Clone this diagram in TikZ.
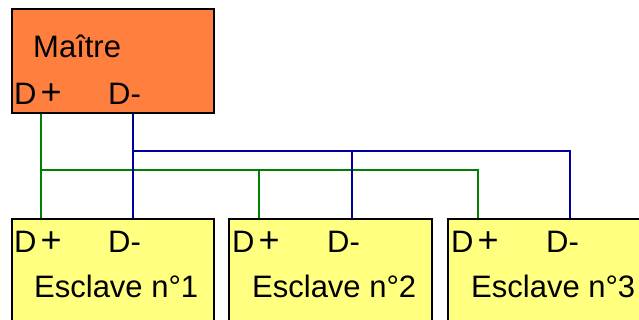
\documentclass[tikz,border=0pt]{standalone}
\usepackage{fontspec}
\setmainfont{Liberation Sans}
\definecolor{masterfill}{RGB}{255,127,63}
\definecolor{slavefill}{RGB}{255,255,128}
\definecolor{wgreen}{RGB}{0,128,0}
\definecolor{wblue}{RGB}{0,0,160}
\newcommand{\dplus}{D\kern4pt{\fontsize{36}{36}\selectfont+}}
\tikzset{
  box/.style={draw=black, line width=2pt, rectangle, inner sep=0pt},
  lbl/.style={anchor=base west, inner sep=0pt, font=\fontsize{31}{36}\selectfont},
  gline/.style={draw=wgreen, line width=1.6pt},
  bline/.style={draw=wblue, line width=1.6pt}
}
\begin{document}
\begin{tikzpicture}[x=1pt,y=-1pt]
\useasboundingbox (0,0) rectangle (639,320);
\clip (0,0) rectangle (639,320);
\fill[white] (0,0) rectangle (639,320);
% ports
\coordinate (mp) at (41,113);
\coordinate (mm) at (133,113);
\coordinate (s1p) at (41,219);
\coordinate (s1m) at (133,219);
\coordinate (s2p) at (259,219);
\coordinate (s2m) at (352,219);
\coordinate (s3p) at (478,219);
\coordinate (s3m) at (570,219);
\coordinate (gy) at (0,170);
\coordinate (by) at (0,151);
% green bus (D+)
\draw[gline] (mp) -- (s1p);
\draw[gline] (mp |- gy) -| (s3p);
\draw[gline] (s2p) -- (s2p |- gy);
% blue bus (D-)
\draw[bline] (mm) -- (s1m);
\draw[bline] (mm |- by) -| (s3m);
\draw[bline] (s2m) -- (s2m |- by);
% master
\node[box, fill=masterfill, minimum width=202pt, minimum height=104pt] (master) at (113,61) {};
\node[lbl] (mname) at (33,58) {Maître};
\node[lbl] (mdp) at (14,105) {\dplus};
\node[lbl] (mdm) at (108,105) {D-};
% slaves
\node[box, fill=slavefill, minimum width=202pt, minimum height=140pt] (s1) at (113,289) {};
\node[lbl] (s1dp) at (14,252) {\dplus};
\node[lbl] (s1dm) at (108,252) {D-};
\node[lbl] (s1n) at (34,297) {Esclave n°1};
\node[box, fill=slavefill, minimum width=203pt, minimum height=140pt] (s2) at (330.5,289) {};
\node[lbl] (s2dp) at (232,252) {\dplus};
\node[lbl] (s2dm) at (327,252) {D-};
\node[lbl] (s2n) at (252,297) {Esclave n°2};
\node[box, fill=slavefill, minimum width=203pt, minimum height=140pt] (s3) at (549.5,289) {};
\node[lbl] (s3dp) at (451,252) {\dplus};
\node[lbl] (s3dm) at (546,252) {D-};
\node[lbl] (s3n) at (471,297) {Esclave n°3};
\end{tikzpicture}
\end{document}
